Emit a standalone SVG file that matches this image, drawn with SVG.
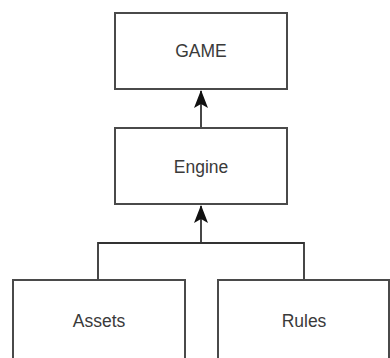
<svg xmlns="http://www.w3.org/2000/svg" width="390" height="358" viewBox="0 0 390 358">
<style>
.box{fill:#fff;stroke:#4a4a4a;stroke-width:2}
.lbl{font-family:"Liberation Sans",Arial,sans-serif;font-size:17.5px;fill:#3a3a3a;text-anchor:middle;dominant-baseline:central}
.con{fill:none;stroke:#333;stroke-width:1.8}
</style>
<defs>
<marker id="arr" markerWidth="14" markerHeight="18" refX="7" refY="1" orient="0" markerUnits="userSpaceOnUse">
<path d="M7,0 L14,18 L7,14 L0,18 Z" fill="#111"/>
</marker>
</defs>
<rect width="390" height="358" fill="#fff"/>
<g id="connectors">
<path class="con" d="M201,128 L201,91" marker-end="url(#arr)"/>
<path class="con" d="M98,280 L98,243 L304,243 L304,280 M201,243 L201,206" marker-end="url(#arr)"/>
</g>
<g id="game"><rect class="box" x="115" y="13" width="172" height="76"/><text class="lbl" x="201" y="51">GAME</text></g>
<g id="engine"><rect class="box" x="115" y="128" width="172" height="76"/><text class="lbl" x="201" y="167">Engine</text></g>
<g id="assets"><rect class="box" x="13" y="280" width="172" height="90"/><text class="lbl" x="99" y="321">Assets</text></g>
<g id="rules"><rect class="box" x="218" y="280" width="171" height="90"/><text class="lbl" x="304" y="321">Rules</text></g>
</svg>
